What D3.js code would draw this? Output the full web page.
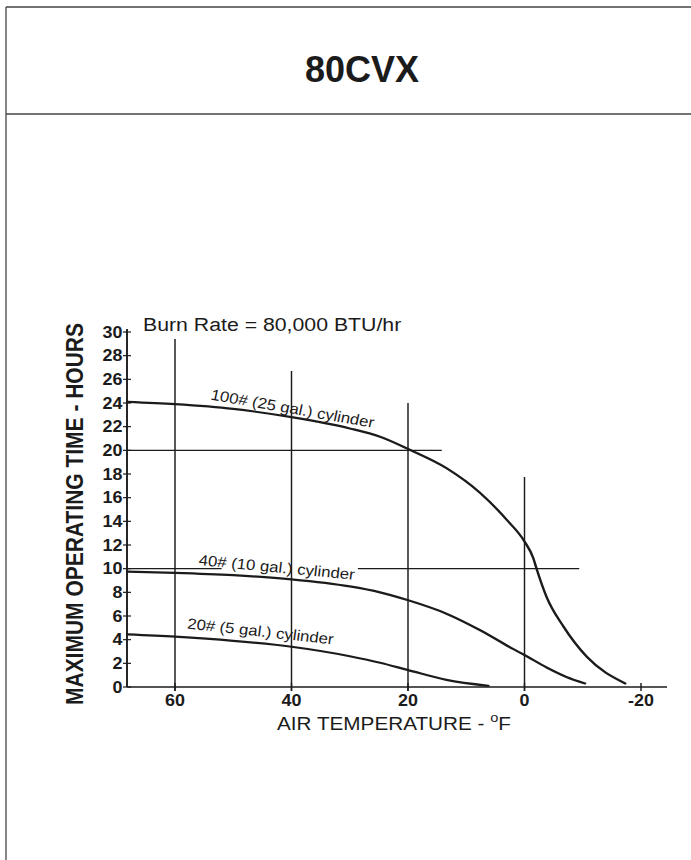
<!DOCTYPE html>
<html><head><meta charset="utf-8">
<script src="https://cdn.jsdelivr.net/npm/d3@7/dist/d3.min.js"></script>
<style>
body{margin:0;background:#fff}
text{font-family:"Liberation Sans",Arial,Helvetica,sans-serif;fill:#1b1b1b}
</style>
</head><body>
<svg id="chart" width="691" height="860"></svg>
<script>
// ---------- data ----------
const titleText = "80CVX";
const burnRateText = "Burn Rate = 80,000 BTU/hr";
const yAxisTitle = "MAXIMUM OPERATING TIME - HOURS";
const xAxisTitle = "AIR TEMPERATURE - ";
const xAxisUnitSup = "o";
const xAxisUnit = "F";
const xTickValues = [60, 40, 20, 0, -20];
const yTickValues = [0, 2, 4, 6, 8, 10, 12, 14, 16, 18, 20, 22, 24, 26, 28, 30];

const temp100 = [68.2, 60, 50, 40, 30, 24.8, 19.7, 13.4, 7.6, 3, 0, -1.5, -2.1, -3.8, -6.7, -10.7, -17.3];
const hours100 = [24.1, 23.9, 23.5, 22.8, 21.85, 21.15, 20.05, 18.5, 16.4, 14.1, 12.3, 10.9, 9.95, 7.6, 5.1, 2.55, 0.3];

const temp40 = [68.2, 60, 50, 40, 30, 24.8, 20.1, 13.4, 7.6, 1.9, 0, -3.8, -7.2, -10.4];
const hours40 = [9.75, 9.65, 9.45, 9.1, 8.5, 8.0, 7.35, 6.2, 4.8, 3.2, 2.7, 1.65, 0.85, 0.3];

const temp20 = [68.2, 60, 50, 40, 30, 24.8, 20.1, 13.4, 6.2];
const hours20 = [4.45, 4.25, 3.9, 3.4, 2.6, 2.05, 1.45, 0.6, 0.1];

const seriesLabels = ["100# (25 gal.) cylinder", "40# (10 gal.) cylinder", "20# (5 gal.) cylinder"];
const labelTemp = [54, 56, 58];
const labelHours = [24.3, 10.3, 4.95];

// reference (guide) lines
const vGuideTemp = [60, 40, 20, 0];
const vGuideTop = [29.4, 26.7, 24.0, 17.75];
const hGuideHours = [20, 10, 10];
const hGuideFrom = [68.2, 68.2, 28.6];
const hGuideTo = [14.2, 52, -9.4];

// ---------- drawing ----------
const SX = 1.12; // horizontal stretch of the chart artwork
const svg = d3.select("#chart");
const ink = "#1b1b1b";

// frame
svg.append("line").attr("x1",6).attr("y1",7).attr("x2",6).attr("y2",860).attr("stroke","#444").attr("stroke-width",1.3);
svg.append("line").attr("x1",6).attr("y1",7).attr("x2",691).attr("y2",7).attr("stroke","#444").attr("stroke-width",1.3);
svg.append("line").attr("x1",6).attr("y1",114).attr("x2",691).attr("y2",114).attr("stroke","#444").attr("stroke-width",1.3);

svg.append("text").attr("x",362).attr("y",82).attr("text-anchor","middle")
  .style("font-size","36px").style("font-weight","bold").text(titleText);

const g = svg.append("g").attr("transform",`scale(${SX},1)`);

const x = d3.scaleLinear().domain([60,-20]).range([175/SX, 641/SX]);
const y = d3.scaleLinear().domain([0,30]).range([687, 332]);
const xLeft = 127/SX, xRight = 667/SX;

// guide lines
vGuideTemp.forEach((t,i)=>{
  g.append("line").attr("x1",x(t)).attr("x2",x(t)).attr("y1",y(0)+4).attr("y2",y(vGuideTop[i]))
   .attr("stroke",ink).attr("stroke-width",1.3);
});
hGuideHours.forEach((h,i)=>{
  g.append("line").attr("x1",Math.max(x(hGuideFrom[i]),xLeft)).attr("x2",x(hGuideTo[i]))
   .attr("y1",y(h)).attr("y2",y(h)).attr("stroke",ink).attr("stroke-width",1.3);
});

// axes
g.append("line").attr("x1",xLeft).attr("x2",xLeft).attr("y1",y(0)).attr("y2",y(30)-3)
  .attr("stroke",ink).attr("stroke-width",1.7);
g.append("line").attr("x1",xLeft).attr("x2",xRight).attr("y1",y(0)).attr("y2",y(0))
  .attr("stroke",ink).attr("stroke-width",1.7);

yTickValues.forEach(v=>{
  g.append("line").attr("x1",xLeft-4/SX).attr("x2",xLeft+4/SX).attr("y1",y(v)).attr("y2",y(v))
   .attr("stroke",ink).attr("stroke-width",1.2);
  g.append("text").attr("x",122.5/SX).attr("y",y(v)).attr("dy","0.36em").attr("text-anchor","end")
   .style("font-size","16px").style("font-weight","bold").text(v);
});
xTickValues.forEach(v=>{
  g.append("line").attr("x1",x(v)).attr("x2",x(v)).attr("y1",y(0)-4).attr("y2",y(0)+4)
   .attr("stroke",ink).attr("stroke-width",1.3);
  g.append("text").attr("x",x(v)).attr("y",706).attr("text-anchor","middle")
   .style("font-size","16px").style("font-weight","bold").text(v);
});

// curves
const line = d3.line().x(d=>x(d[0])).y(d=>y(d[1])).curve(d3.curveMonotoneX);
[[temp100,hours100],[temp40,hours40],[temp20,hours20]].forEach(([t,h])=>{
  const pts = t.map((v,i)=>[v,h[i]]);
  g.append("path").attr("d",line(pts)).attr("fill","none").attr("stroke",ink)
   .attr("stroke-width",2.2).attr("stroke-linecap","round");
});

// curve labels
const labelAngles = [11, 6, 7];
seriesLabels.forEach((s,i)=>{
  g.append("text").attr("transform",`translate(${x(labelTemp[i])},${y(labelHours[i])}) rotate(${labelAngles[i]})`)
   .style("font-size","15px").text(s);
});

// burn rate
g.append("text").attr("x",143/SX).attr("y",331.5).style("font-size","19px").text(burnRateText);

// x axis title
const xt = g.append("text").attr("x",(277)/SX).attr("y",730).style("font-size","18.5px");
xt.append("tspan").text(xAxisTitle);
xt.append("tspan").attr("dy",-8).style("font-size","13px").text(xAxisUnitSup);
xt.append("tspan").attr("dy",8).text(xAxisUnit);

// y axis title
g.append("text").attr("transform",`translate(${83/SX},${514}) rotate(-90)`).attr("text-anchor","middle")
  .style("font-size","21px").style("font-weight","bold").text(yAxisTitle);
</script>
</body></html>
